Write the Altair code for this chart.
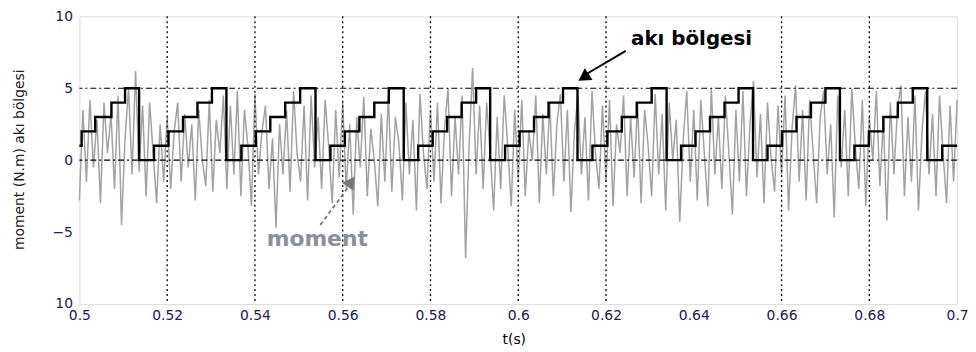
import altair as alt
import pandas as pd

# ---- data ----
sample_step = 0.0008
moment_vals = [
    -2.8, 3.5, -1.5, 4.2, -0.5, 2.8, -3.0, 4.0, 0.5, 3.2,
    -2.0, 4.5, -4.5, 1.5, 5.0, -1.0, 6.2, -0.8, 3.8, -2.5,
    4.0, 0.5, -3.0, 2.5, -1.5, 3.0, -2.0, 2.0, 4.0, -1.5,
    3.2, -0.5, 2.5, -2.8, 3.5, 0.0, -1.8, 4.2, -2.2, 2.8,
    0.5, 4.5, -2.0, 3.8, -1.0, 4.8, -2.5, 3.5, 1.0, -3.2,
    4.6, -1.0, 2.0, 3.8, -2.0, 1.5, -4.7, 2.5, -1.0, 3.5,
    -2.2, 4.8, 0.5, -1.5, 3.8, -2.8, 4.5, -0.5, 3.0, -2.0,
    4.2, 1.0, -3.0, 3.5, -1.2, 4.0, -2.0, 2.5, -3.8, 3.0,
    -0.5, 4.4, -2.5, 2.2, 0.0, -3.2, 3.2, -1.5, 4.5, -2.2,
    3.0, 1.2, -2.8, 4.0, -1.0, 2.8, -3.5, 4.6, 0.5, -2.0,
    3.5, -1.5, 4.0, -3.0, 2.2, 5.0, -2.5, 3.0, -1.0, 4.5,
    -6.8, 1.0, 6.4, -1.0, 3.8, -2.0, 4.0, 0.5, -3.5, 3.0,
    -2.0, 4.5, 1.0, -3.2, 3.5, -1.5, 4.2, -2.5, 2.0, 0.0,
    4.5, -3.0, 3.2, -1.0, 4.0, -2.5, 2.5, 4.6, -1.5, 3.5,
    -3.6, 2.0, 4.5, -1.0, 3.0, -2.8, 4.8, 0.5, -2.0, 3.8,
    -1.5, 4.2, -3.2, 2.5, 0.5, 4.5, -2.5, 3.0, -1.2, 4.0,
    -3.0, 3.5, 1.0, -2.5, 4.6, -1.0, 3.2, -3.5, 4.0, 0.0,
    2.8, -4.3, 1.5, 4.8, -1.5, 3.5, -2.8, 4.2, 0.5, -3.2,
    5.0, -1.0, 3.0, -2.0, 4.5, 0.5, -3.8, 3.5, -1.5, 4.8,
    -2.5, 2.5, 5.5, -1.2, 3.2, -3.0, 4.0, 0.2, -2.2, 3.8,
    -1.0, 4.5, -3.5, 2.2, 5.2, -1.5, 3.5, -2.8, 4.2, 0.5,
    -3.0, 3.0, 4.8, -1.0, 2.5, -4.0, 4.5, -0.5, 3.5, -2.5,
    5.0, 1.0, -2.0, 4.2, -3.2, 3.0, 0.0, 4.8, -1.8, 2.8,
    -4.2, 4.0, -1.0, 3.5, 5.2, -2.5, 3.0, -1.5, 4.5, -3.5,
    2.0, 4.8, -1.0, 3.2, -2.5, 4.5, 0.5, -3.0, 3.8, -1.5,
    4.2,
]
moment_t = [round(0.5 + i * sample_step, 4) for i in range(len(moment_vals))]

step_t = [
    0.5000, 0.5005, 0.5036, 0.5073, 0.5104,
    0.5136, 0.5170, 0.5203, 0.5236, 0.5269, 0.5302,
    0.5335, 0.5369, 0.5402, 0.5435, 0.5469, 0.5503,
    0.5538, 0.5572, 0.5605, 0.5638, 0.5672, 0.5705,
    0.5739, 0.5772, 0.5805, 0.5838, 0.5871, 0.5904,
    0.5936, 0.5970, 0.6003, 0.6036, 0.6069, 0.6102,
    0.6135, 0.6169, 0.6203, 0.6236, 0.6270, 0.6304,
    0.6338, 0.6371, 0.6404, 0.6437, 0.6470, 0.6502,
    0.6535, 0.6568, 0.6601, 0.6634, 0.6667, 0.6700,
    0.6733, 0.6766, 0.6799, 0.6832, 0.6865, 0.6899,
    0.6932, 0.6966, 0.7000,
]
step_v = [
    1, 2, 3, 4, 5,
    0, 1, 2, 3, 4, 5,
    0, 1, 2, 3, 4, 5,
    0, 1, 2, 3, 4, 5,
    0, 1, 2, 3, 4, 5,
    0, 1, 2, 3, 4, 5,
    0, 1, 2, 3, 4, 5,
    0, 1, 2, 3, 4, 5,
    0, 1, 2, 3, 4, 5,
    0, 1, 2, 3, 4, 5,
    0, 1, 1,
]

x_ticks = [0.5, 0.52, 0.54, 0.56, 0.58, 0.6, 0.62, 0.64, 0.66, 0.68, 0.7]
y_ticks = [-10, -5, 0, 5, 10]
grid_x = [0.52, 0.54, 0.56, 0.58, 0.6, 0.62, 0.66, 0.68]
grid_y = [5, 0]

labels_text = ["akı bölgesi", "moment"]
labels_t = [0.6395, 0.5542]
labels_v = [8.45, -5.5]

aki_arrow_t = [0.6245, 0.6145]
aki_arrow_v = [7.6, 5.8]
mom_arrow_t = [0.5549, 0.5612]
mom_arrow_v = [-4.5, -1.9]
heads_t = [0.6149, 0.5619]
heads_v = [5.75, -1.5]
heads_angle = [236, 34]
heads_color = ["black", "#777777"]

# ---- chart ----
xs = alt.Scale(domain=[0.5, 0.7], nice=False, zero=False)
ys = alt.Scale(domain=[-10, 10], nice=False, zero=False)

label_color = "#202050"

x_axis = alt.Axis(
    values=x_ticks, format=".2~f", grid=False, ticks=False, domain=False,
    labelPadding=5, labelFont="DejaVu Sans", labelFontSize=14, labelColor=label_color,
    title="t(s)", titleFont="DejaVu Sans", titleFontSize=14, titleFontWeight="normal",
    titleColor="black", titleX=438, titleY=36, titleBaseline="middle",
    titleAlign="center", labelFlush=False,
)
y_axis = alt.Axis(
    values=y_ticks, grid=False, ticks=False, domain=False,
    labelExpr="datum.value == -10 ? '10' : datum.label",
    labelPadding=7, labelFont="DejaVu Sans", labelFontSize=14, labelColor=label_color,
    title="moment (N.m) akı bölgesi", titleFont="DejaVu Sans", titleFontSize=14,
    titleFontWeight="normal", titleColor="#222222", titleX=-60, titleY=144,
    titleAlign="center", titleBaseline="middle", titleAngle=-90, labelFlush=False,
)

moment_df = pd.DataFrame({"t": moment_t, "v": moment_vals})
step_df = pd.DataFrame({"t": step_t, "v": step_v})

grey = alt.Chart(moment_df).mark_line(
    color="#a2a2a2", strokeWidth=1.5
).encode(
    x=alt.X("t:Q", scale=xs, axis=x_axis),
    y=alt.Y("v:Q", scale=ys, axis=y_axis),
    order="t:Q",
)

vgrid = alt.Chart(pd.DataFrame({"g": grid_x})).mark_rule(
    color="black", strokeWidth=1.3, strokeDash=[2, 3]
).encode(x=alt.X("g:Q", scale=xs))

hgrid = alt.Chart(pd.DataFrame({"g": grid_y})).mark_rule(
    color="black", strokeWidth=1.2, strokeDash=[6, 3, 2, 3]
).encode(y=alt.Y("g:Q", scale=ys))

stair = alt.Chart(step_df).mark_line(
    color="black", strokeWidth=2.4, interpolate="step-after"
).encode(x=alt.X("t:Q", scale=xs), y=alt.Y("v:Q", scale=ys), order="t:Q")

aki_arrow = alt.Chart(pd.DataFrame({"t": aki_arrow_t, "v": aki_arrow_v})).mark_line(
    color="black", strokeWidth=2
).encode(x=alt.X("t:Q", scale=xs), y=alt.Y("v:Q", scale=ys))

mom_arrow = alt.Chart(pd.DataFrame({"t": mom_arrow_t, "v": mom_arrow_v})).mark_line(
    color="#777777", strokeWidth=1.8, strokeDash=[4, 3]
).encode(x=alt.X("t:Q", scale=xs), y=alt.Y("v:Q", scale=ys))

heads = alt.Chart(pd.DataFrame({
    "t": heads_t, "v": heads_v, "a": heads_angle, "c": heads_color
})).mark_point(shape="triangle-up", filled=True, size=200, opacity=1).encode(
    x=alt.X("t:Q", scale=xs), y=alt.Y("v:Q", scale=ys),
    angle=alt.Angle("a:Q", scale=None),
    color=alt.Color("c:N", scale=None),
)

aki_text = alt.Chart(pd.DataFrame({"t": labels_t[:1], "v": labels_v[:1], "s": labels_text[:1]})).mark_text(
    font="DejaVu Sans", fontSize=20, fontWeight="bold", color="black"
).encode(x=alt.X("t:Q", scale=xs), y=alt.Y("v:Q", scale=ys), text="s:N")

mom_text = alt.Chart(pd.DataFrame({"t": labels_t[1:], "v": labels_v[1:], "s": labels_text[1:]})).mark_text(
    font="DejaVu Sans", fontSize=22, fontWeight="bold", color="#8a8f99"
).encode(x=alt.X("t:Q", scale=xs), y=alt.Y("v:Q", scale=ys), text="s:N")

chart = alt.layer(
    grey, vgrid, hgrid, stair, aki_arrow, mom_arrow, heads, aki_text, mom_text
).properties(
    width=885, height=290,
    autosize=alt.AutoSizeParams(type="none"),
    padding={"left": 72, "top": 7, "right": 11, "bottom": 46},
).configure_view(
    stroke="#111111", strokeWidth=2.2
).configure(background="white")

chart.save("out.html", embed_options={"renderer": "svg", "actions": False})
